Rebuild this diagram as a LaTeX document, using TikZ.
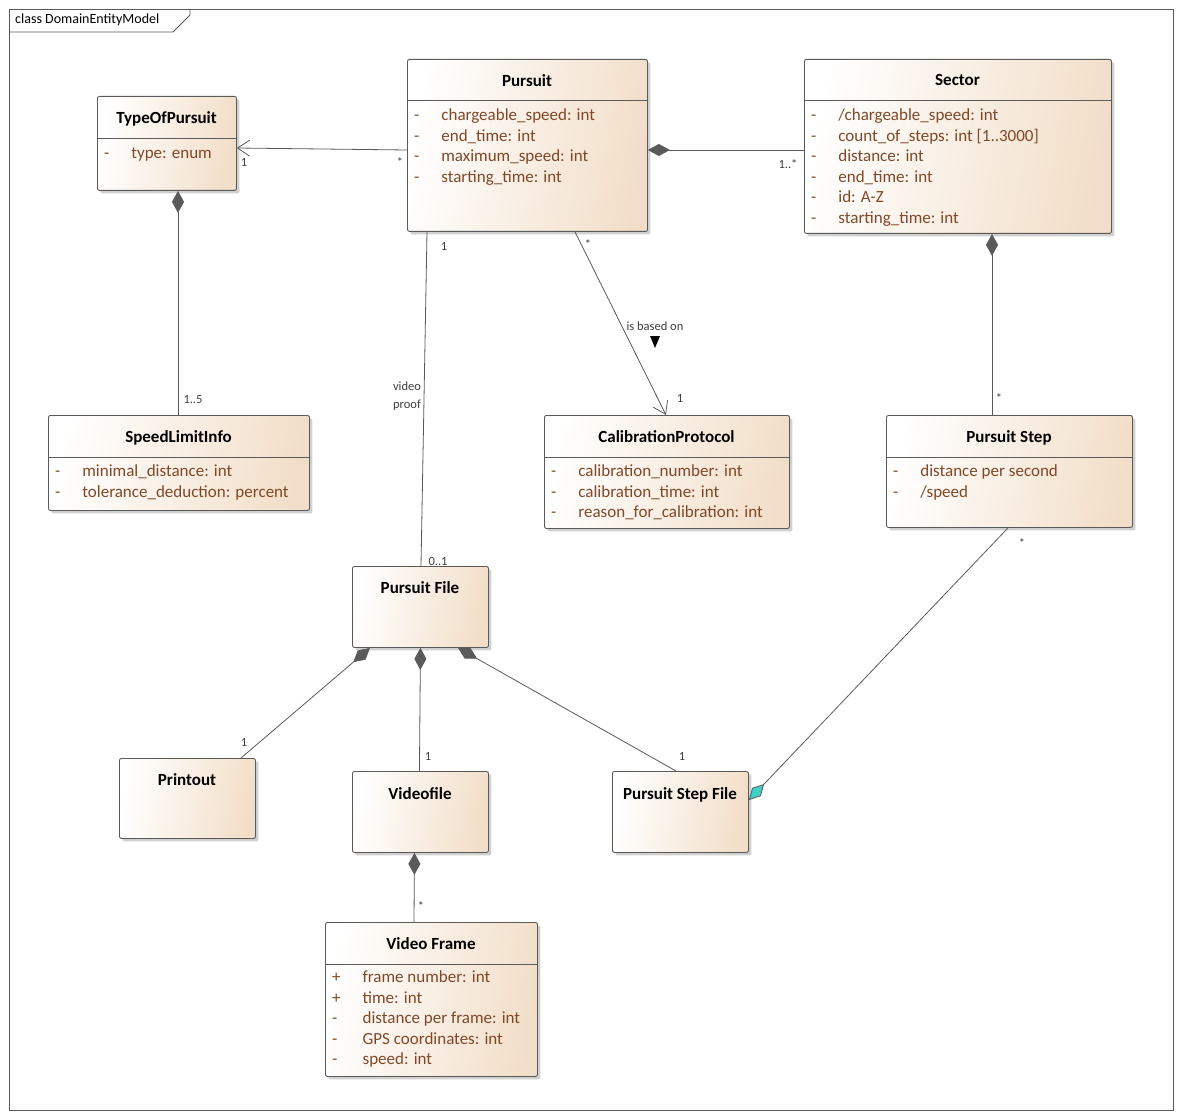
\documentclass[tikz,border=0pt]{standalone}
\usepackage{fontspec}
\setmainfont{Carlito}
\usetikzlibrary{arrows.meta,shadows,calc}
\definecolor{umlbeige}{RGB}{242,222,200}
\definecolor{umlbrown}{RGB}{128,72,40}
\definecolor{umlline}{RGB}{90,90,90}
\definecolor{umlcyan}{RGB}{64,208,200}

\newcommand{\attrs}[1]{\begin{tabular}{@{}l@{\hspace{22pt}}l@{}}#1\end{tabular}}

\begin{document}
\begin{tikzpicture}[x=1pt,y=-1pt]

  % Styles
  \tikzset{
    klasse/.style={draw=umlline, line width=0.9pt, rounded corners=2pt, anchor=north west,
      inner sep=0pt, left color=white, right color=umlbeige, shading angle=80,
      drop shadow={shadow xshift=3pt, shadow yshift=-3pt, fill=black!30, opacity=0.6}},
    titel/.style={font=\fontsize{17}{20}\selectfont\bfseries, anchor=north},
    attr/.style={font=\fontsize{17}{20.5}\selectfont, text=umlbrown, anchor=north west, inner sep=0pt,
      execute at begin node={\renewcommand{\arraystretch}{1}}},
    mult/.style={font=\fontsize{12.5}{14}\selectfont, text=black!75, inner sep=1pt},
    verbind/.style={draw=umlline, line width=0.8pt},
    komp/.style={verbind, {Diamond[length=22pt,width=12pt,fill=umlline]}-},
    navi/.style={verbind, -{Straight Barb[length=12pt,width=16pt,line width=0.8pt]}}
  }

  \useasboundingbox (0,0) rectangle (1181,1118);
  \fill[white] (0,0) rectangle (1181,1118);

  % Rahmen
  \draw[umlline, line width=0.8pt] (9,9) rectangle (1173,1110);
  \draw[umlline, line width=0.8pt] (9,32) -- (173,32) -- (190,15) -- (190,9);
  \node[font=\fontsize{14}{16}\selectfont, anchor=west, inner sep=0pt] (rahmen) at (15,20) {class DomainEntityModel};

  % Klassen
  \node[klasse, minimum width=139pt, minimum height=94pt] (typ) at (97,96) {};
  \draw[umlline, line width=0.8pt] (97,138) -- (236,138);
  \node[titel] at (166.5,108) {TypeOfPursuit};
  \node[attr] at (104,144) {\attrs{- & type: enum}};

  \node[klasse, minimum width=240pt, minimum height=172pt] (pursuit) at (407,59) {};
  \draw[umlline, line width=0.8pt] (407,100) -- (647,100);
  \node[titel] at (527,71) {Pursuit};
  \node[attr] at (414,106) {\attrs{- & chargeable\_speed: int\\- & end\_time: int\\- & maximum\_speed: int\\- & starting\_time: int}};

  \node[klasse, minimum width=307pt, minimum height=174pt] (sector) at (804,59) {};
  \draw[umlline, line width=0.8pt] (804,100) -- (1111,100);
  \node[titel] at (957.5,71) {Sector};
  \node[attr] at (811,106) {\attrs{- & /chargeable\_speed: int\\- & count\_of\_steps: int [1..3000]\\- & distance: int\\- & end\_time: int\\- & id: A-Z\\- & starting\_time: int}};

  \node[klasse, minimum width=261pt, minimum height=95pt] (limit) at (48,415) {};
  \draw[umlline, line width=0.8pt] (48,457) -- (309,457);
  \node[titel] at (178.5,427) {SpeedLimitInfo};
  \node[attr] at (55,462) {\attrs{- & minimal\_distance: int\\- & tolerance\_deduction: percent}};

  \node[klasse, minimum width=245pt, minimum height=113pt] (calib) at (544,415) {};
  \draw[umlline, line width=0.8pt] (544,457) -- (789,457);
  \node[titel] at (666.5,427) {CalibrationProtocol};
  \node[attr] at (551,462) {\attrs{- & calibration\_number: int\\- & calibration\_time: int\\- & reason\_for\_calibration: int}};

  \node[klasse, minimum width=246pt, minimum height=112pt] (step) at (886,415) {};
  \draw[umlline, line width=0.8pt] (886,457) -- (1132,457);
  \node[titel] at (1009,427) {Pursuit Step};
  \node[attr] at (893,462) {\attrs{- & distance per second\\- & /speed}};

  \node[klasse, minimum width=136pt, minimum height=81pt] (pfile) at (352,566) {};
  \node[titel] at (420,578) {Pursuit File};

  \node[klasse, minimum width=136pt, minimum height=80pt] (printout) at (119,758) {};
  \node[titel] at (187,770) {Printout};

  \node[klasse, minimum width=136pt, minimum height=81pt] (video) at (352,771) {};
  \node[titel] at (420,784) {Videofile};

  \node[klasse, minimum width=136pt, minimum height=81pt] (stepfile) at (612,771) {};
  \node[titel] at (680,784) {Pursuit Step File};

  \node[klasse, minimum width=212pt, minimum height=154pt] (frame) at (325,922) {};
  \draw[umlline, line width=0.8pt] (325,964) -- (537,964);
  \node[titel] at (431,934) {Video Frame};
  \node[attr] at (332,968) {\attrs{+ & frame number: int\\+ & time: int\\- & distance per frame: int\\- & GPS coordinates: int\\- & speed: int}};

  % Verbindungen
  \draw[navi] ([yshift=-91pt]pursuit.north west) -- ([yshift=-52pt]typ.north east);
  \node[mult] at (400,162) {*};
  \node[mult] at (244,162) {1};

  \draw[komp] ([yshift=-91pt]pursuit.north east) -- ([yshift=-91pt]sector.north west);
  \node[mult] at (788,164) {1..*};

  \draw[komp] ([xshift=81pt]typ.south west) -- ([xshift=130pt]limit.north west);
  \node[mult] at (193,400) {1..5};

  \draw[verbind] ([xshift=20pt]pursuit.south west) -- ([xshift=69pt]pfile.north west);
  \node[mult] at (444,246) {1};
  \node[mult] at (438,561) {0..1};
  \node[mult, fill=white, align=center, font=\fontsize{12.5}{18}\selectfont] at (407,396) {video\\proof};

  \draw[navi] ([xshift=168pt]pursuit.south west) -- ([xshift=122pt]calib.north west);
  \node[mult] at (588,244) {*};
  \node[mult] at (680,398) {1};
  \node[mult, fill=white] (based) at (655,326) {is based on};
  \fill[black] (650,336) -- (660,336) -- (655,348) -- cycle;

  \draw[komp] ([xshift=188pt]sector.south west) -- ([xshift=106pt]step.north west);
  \node[mult] at (999,398) {*};

  \draw[komp] ([xshift=18pt]pfile.south west) -- ([xshift=122pt]printout.north west);
  \node[mult] at (244,742) {1};

  \draw[komp] (pfile.south) -- ([xshift=-1pt]video.north);
  \node[mult] at (428,756) {1};

  \draw[komp] ([xshift=106pt]pfile.south west) -- ([xshift=64pt]stepfile.north west);
  \node[mult] at (682,756) {1};

  \draw[verbind, -{Diamond[length=22pt,width=12pt,fill=umlcyan]}] ([xshift=122pt]step.south west) -- ([yshift=-29pt]stepfile.north east);
  \node[mult] at (1022,543) {*};

  \draw[komp] ([xshift=-6pt]video.south) -- ([xshift=89pt]frame.north west);
  \node[mult] at (421,906) {*};

\end{tikzpicture}
\end{document}
